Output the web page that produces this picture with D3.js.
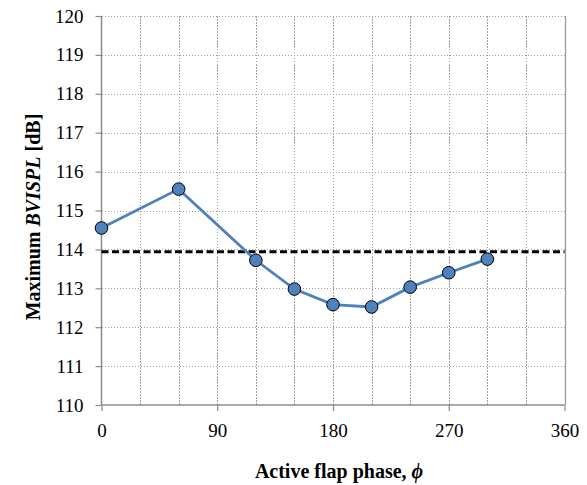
<!DOCTYPE html>
<html>
<head>
<meta charset="utf-8">
<script src="https://cdn.jsdelivr.net/npm/d3@7"></script>
<style>
  html, body { margin: 0; padding: 0; background: #fff; }
  svg { display: block; }
  svg text { font-family: "Liberation Serif", "Times New Roman", serif; fill: #000; }
</style>
</head>
<body>
<svg id="chart" width="587" height="485"></svg>
<script>
// Active flap phase (deg) and maximum BVISPL (dB)
const phase = [0, 60, 120, 150, 180, 210, 240, 270, 300];
const bvispl = [114.55, 115.55, 113.72, 112.98, 112.58, 112.52, 113.03, 113.40, 113.75];
// Baseline level (no flap actuation)
const baseline = [113.94];
const xTicks = [0, 90, 180, 270, 360];
const xGrid = [30, 60, 90, 120, 150, 180, 210, 240, 270, 300, 330];
const yTicks = [110, 111, 112, 113, 114, 115, 116, 117, 118, 119, 120];

const svg = d3.select("#chart");
const m = { left: 101.5, right: 564.5, top: 16, bottom: 405 };

const x = d3.scaleLinear().domain([0, 360]).range([m.left, m.right]);
const y = d3.scaleLinear().domain([110, 120]).range([m.bottom, m.top]);

// Dotted grid
const grid = svg.append("g").attr("stroke", "#a0a0a0").attr("stroke-width", 1)
  .attr("stroke-dasharray", "1.5,1.5").attr("shape-rendering", "crispEdges");
grid.selectAll("line.v").data(xGrid).join("line").attr("class", "v")
  .attr("x1", d => Math.round(x(d)) + 0.5).attr("x2", d => Math.round(x(d)) + 0.5)
  .attr("y1", m.top).attr("y2", m.bottom);
grid.selectAll("line.h").data(yTicks.slice(1)).join("line").attr("class", "h")
  .attr("x1", m.left).attr("x2", m.right)
  .attr("y1", d => Math.round(y(d)) + 0.5).attr("y2", d => Math.round(y(d)) + 0.5);

// Right edge
svg.append("line").attr("x1", Math.round(x(360)) + 0.5).attr("x2", Math.round(x(360)) + 0.5)
  .attr("y1", m.top).attr("y2", m.bottom).attr("stroke", "#999").attr("stroke-width", 1.3);

// Axes
const xAxis = svg.append("g").attr("transform", `translate(0,${m.bottom})`)
  .call(d3.axisBottom(x).tickValues(xTicks).tickSize(6).tickPadding(13).tickFormat(d3.format("d")));
const yAxis = svg.append("g").attr("transform", `translate(${m.left},0)`)
  .call(d3.axisLeft(y).tickValues(yTicks).tickSize(6).tickPadding(12).tickFormat(d3.format("d")));
[xAxis, yAxis].forEach(a => {
  a.attr("font-family", null).attr("font-size", null);
  a.select(".domain").attr("stroke", "#8c8c8c").attr("stroke-width", 1.5);
  a.selectAll(".tick line").attr("stroke", "#8c8c8c").attr("stroke-width", 1.2);
  a.selectAll(".tick text")
    .style("font-family", "'Liberation Serif', 'Times New Roman', serif")
    .style("font-size", "19px");
});
xAxis.select(".domain").attr("d", `M${m.left},0H${m.right}`);
yAxis.select(".domain").attr("d", `M0,${m.bottom}V${m.top}`);

// Baseline dashed line
svg.selectAll("line.base").data(baseline).join("line").attr("class", "base")
  .attr("x1", m.left).attr("x2", m.right)
  .attr("y1", d => y(d)).attr("y2", d => y(d))
  .attr("stroke", "#000").attr("stroke-width", 3).attr("stroke-dasharray", "7,3.5");

// Series line and markers
const pts = phase.map((p, i) => ({ p, v: bvispl[i] }));
svg.append("path").datum(pts)
  .attr("fill", "none").attr("stroke", "#4f81bd").attr("stroke-width", 2.8)
  .attr("d", d3.line().x(d => x(d.p)).y(d => y(d.v)));
svg.selectAll("circle.pt").data(pts).join("circle").attr("class", "pt")
  .attr("cx", d => x(d.p)).attr("cy", d => y(d.v)).attr("r", 6.3)
  .attr("fill", "#4f81bd").attr("stroke", "#000").attr("stroke-width", 1);

// Axis titles
const xt = svg.append("text").attr("x", 339).attr("y", 478)
  .attr("text-anchor", "middle").style("font-size", "20px").attr("font-weight", "bold");
xt.append("tspan").text("Active flap phase, ");
xt.append("tspan").attr("font-style", "italic").text("\u03d5");

const yt = svg.append("text").attr("transform", "translate(40,217) rotate(-90)")
  .attr("text-anchor", "middle").style("font-size", "20px").attr("font-weight", "bold");
yt.append("tspan").text("Maximum ");
yt.append("tspan").attr("font-style", "italic").text("BVISPL");
yt.append("tspan").text(" [dB]");
</script>
</body>
</html>
